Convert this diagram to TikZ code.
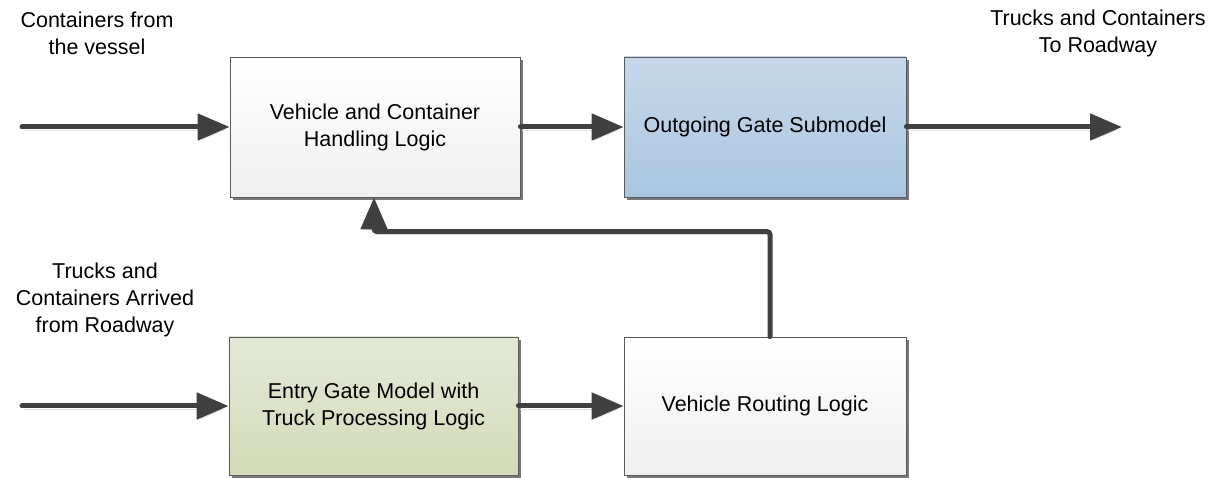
\documentclass[tikz,border=0pt]{standalone}
\usepackage{fontspec}
\setmainfont{Liberation Sans}
\usetikzlibrary{arrows.meta,shadows,calc}
\definecolor{linec}{HTML}{404040}
\definecolor{boxborder}{HTML}{5A5A5A}
\tikzset{
  blk/.style={draw=boxborder, line width=0.8pt, align=center, inner sep=2pt,
    font=\fontsize{21.5}{27}\selectfont,
    drop shadow={shadow xshift=3pt, shadow yshift=-3pt, fill=gray!95!black, opacity=1}},
  whitebox/.style={blk, top color=white, bottom color=black!6},
  bluebox/.style={blk, top color={rgb,255:red,198;green,216;blue,233}, bottom color={rgb,255:red,170;green,198;blue,224}},
  greenbox/.style={blk, top color={rgb,255:red,228;green,233;blue,214}, bottom color={rgb,255:red,211;green,219;blue,184}},
  lbl/.style={align=center, font=\fontsize{21.5}{27}\selectfont, inner sep=0pt},
  flow/.style={draw=linec, line width=5pt, line cap=round, rounded corners=3pt,
    -{Triangle[length=32pt,width=26pt]},
    preaction={draw=black!12, transform canvas={xshift=1.5pt,yshift=-3pt}}}
}
\begin{document}
\begin{tikzpicture}[x=1pt,y=-1pt]
\useasboundingbox (0,0) rectangle (1227,478);
\node[whitebox, minimum width=290pt, minimum height=140pt] (b1) at (375,127) {Vehicle and Container\\Handling Logic};
\node[bluebox, minimum width=282pt, minimum height=140pt] (b2) at (765,127) {Outgoing Gate Submodel};
\node[greenbox, minimum width=289pt, minimum height=138pt] (b3) at (373.5,406) {Entry Gate Model with\\Truck Processing Logic};
\node[whitebox, minimum width=282pt, minimum height=138pt] (b4) at (765,406) {Vehicle Routing Logic};

\node[lbl] (l1) at (97,33) {Containers from\\the vessel};
\node[lbl] (l2) at (1098,33) {Trucks and Containers\\To Roadway};
\node[lbl] (l3) at (105,300) {Trucks and\\Containers Arrived\\from Roadway};

\coordinate (in1) at (22,127);
\coordinate (in2) at (22,406);
\coordinate (out) at (1122,127);

\draw[flow] (in1) -- (b1.west);
\draw[flow] (b1.east) -- (b2.west);
\draw[flow] (b2.east) -- (out);
\draw[flow] (in2) -- (b3.west);
\draw[flow] (b3.east) -- (b4.west);
\draw[flow] ([xshift=5pt]b4.north) -- ++(0,-105) -| ([xshift=-1pt]b1.south);
\end{tikzpicture}
\end{document}
